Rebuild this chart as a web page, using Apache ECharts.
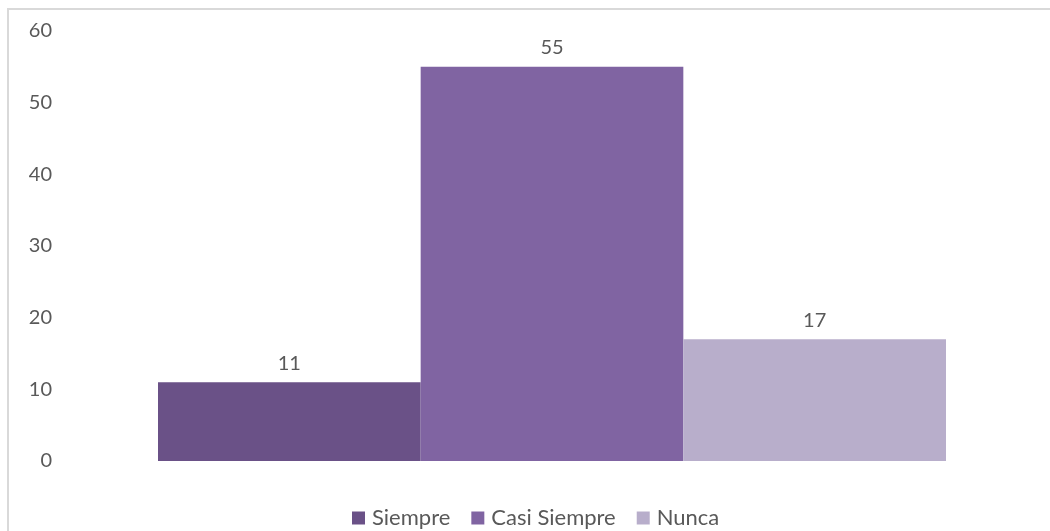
<!DOCTYPE html>
<html><head><meta charset="utf-8">
<script src="https://cdn.jsdelivr.net/npm/echarts@6/dist/echarts.min.js"></script>
<style>
html,body{margin:0;padding:0;background:#fff;overflow:hidden;}
#frame{position:absolute;left:7px;top:8px;width:1100px;height:600px;border:2px solid #d9d9d9;box-sizing:border-box;}
#c{position:absolute;left:0;top:0;width:1050px;height:531px;}
</style></head><body>
<div id="frame"></div>
<div id="c"></div>
<script>
var categories = [''];
var seriesNames = ['Siempre', 'Casi Siempre', 'Nunca'];
var seriesValues = [[11], [55], [17]];
var colors = ['#6a5187', '#8064a2', '#b8aecb'];
var yTicks = [0, 10, 20, 30, 40, 50, 60];

var chart = echarts.init(document.getElementById('c'));
var txt = '#595959';
var font = 'Lato, "Noto Sans", sans-serif';
chart.setOption({
  animation: false,
  textStyle: {fontFamily: font},
  grid: {left: 158, right: 104, top: 31, bottom: 70},
  legend: {
    top: 502, left: 347, itemWidth: 13, itemHeight: 13, itemGap: 21,
    icon: 'rect',
    textStyle: {color: txt, fontSize: 22, fontFamily: font, padding: [0,0,0,2]},
    data: seriesNames
  },
  xAxis: {type: 'category', data: categories, axisLine: {show: false}, axisTick: {show: false}, axisLabel: {show: false}},
  yAxis: {
    type: 'value', min: yTicks[0], max: yTicks[yTicks.length-1], interval: 10,
    splitLine: {show: false}, axisLine: {show: false}, axisTick: {show: false},
    axisLabel: {color: txt, fontSize: 20, fontFamily: font, margin: 106, align: 'right'}
  },
  series: seriesNames.map(function(n, i){
    return {
      name: n, type: 'bar', data: seriesValues[i], barGap: '0%', barCategoryGap: '0%',
      itemStyle: {color: colors[i]},
      label: {show: true, position: 'top', distance: 9, color: txt, fontSize: 20, fontFamily: font}
    };
  })
});
</script>
</body></html>
